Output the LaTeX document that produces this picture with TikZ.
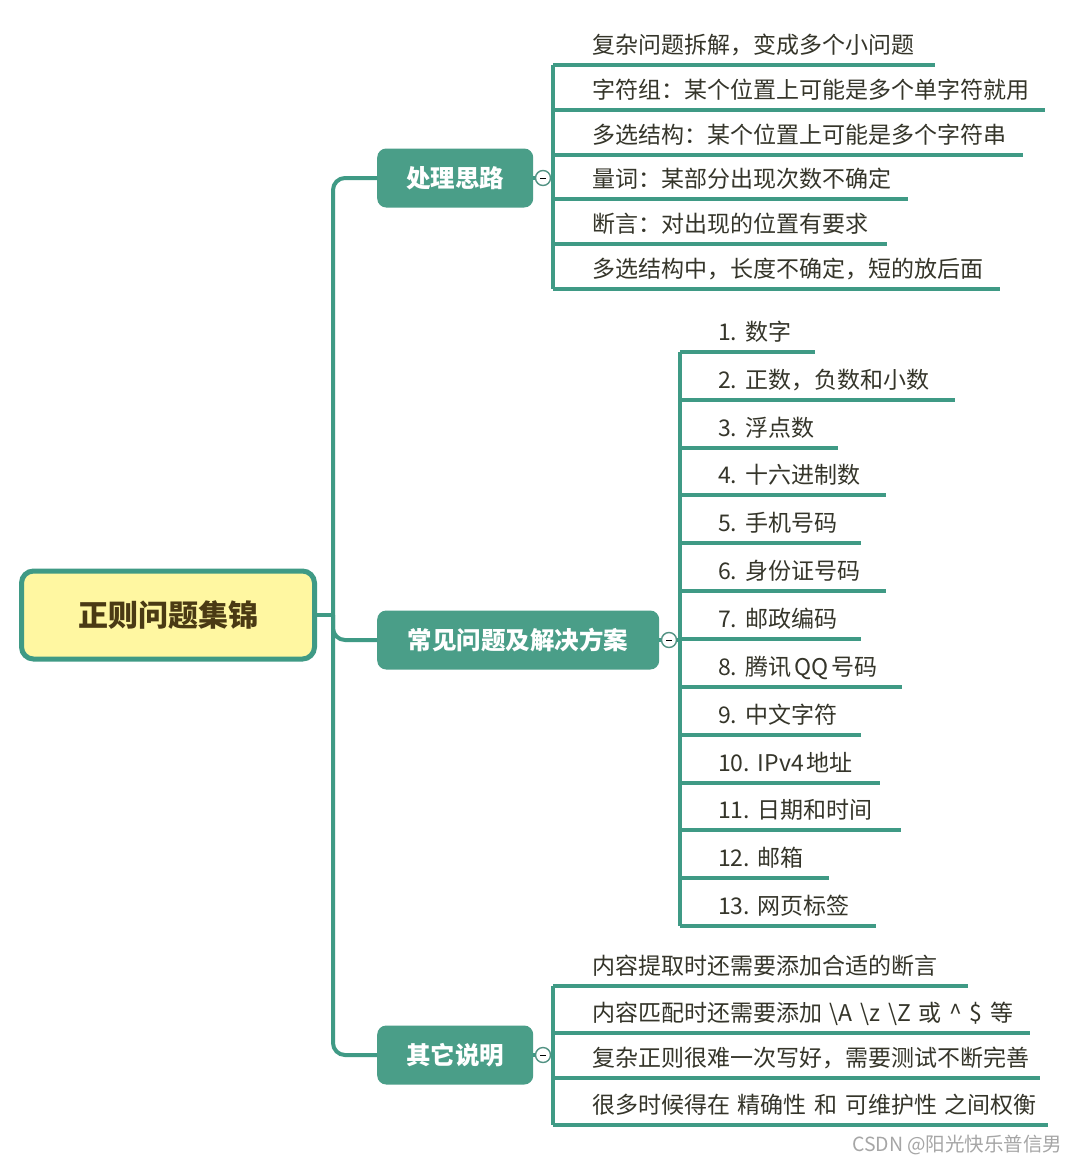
\documentclass[tikz,border=0pt]{standalone}
\usepackage{fontspec}
\setmainfont{Noto Sans CJK SC}
\usepackage{tikz}
\usepackage{xcolor}

\definecolor{linegreen}{HTML}{3F9A85}
\definecolor{topicgreen}{HTML}{4A9E88}
\definecolor{rootyellow}{HTML}{FFF7A1}
\definecolor{roottext}{HTML}{4A3A14}
\definecolor{leaftext}{HTML}{35352A}

\tikzset{
  root/.style={draw=linegreen, line width=5pt, fill=rootyellow, rounded corners=12pt,
    minimum width=293pt, minimum height=88pt, text=roottext,
    font=\fontsize{30}{36}\selectfont\bfseries},
  topic/.style={anchor=west, fill=topicgreen, rounded corners=9pt, minimum height=59pt,
    inner xsep=0pt, text=white, font=\fontsize{24.5}{30}\selectfont\bfseries},
  marker/.style={circle, draw=linegreen!70!gray, fill=white, line width=1.4pt,
    minimum size=15pt, inner sep=0pt},
  leaf/.style={anchor=south west, inner xsep=0pt, inner ysep=11pt, text depth=0pt,
    align=left, text=leaftext, font=\fontsize{23}{28}\selectfont,
    execute at begin node={\hspace*{39pt}}},
  branch/.style={draw=linegreen, line width=4pt},
  uline/.style={draw=linegreen, line width=3.5pt}
}

\begin{document}
\begin{tikzpicture}[x=1pt, y=-1pt]
  \useasboundingbox[fill=white] (0,0) rectangle (1080,1164);

  \node[root] (R) at (168,615) {正则问题集锦};
  \node[topic, minimum width=156pt] (T1) at (377,178) {处理思路};
  \node[topic, minimum width=282pt] (T2) at (377,640) {常见问题及解决方案};
  \node[topic, minimum width=156pt] (T3) at (377,1055) {其它说明};

  \coordinate (H) at (333,615);
  \draw[branch] (R.east) -- (H);
  \draw[branch, rounded corners=12pt] (H) |- (T1.west);
  \draw[branch, rounded corners=12pt] (H) |- (T2.west);
  \draw[branch, rounded corners=12pt] (H) |- (T3.west);

  % first group
  \node[leaf, text width=382pt] (A1) at (553,65) {复杂问题拆解，变成多个小问题};
  \node[leaf, text width=492pt] (A2) at (553,110) {字符组：某个位置上可能是多个单字符就用};
  \node[leaf, text width=470pt] (A3) at (553,155) {多选结构：某个位置上可能是多个字符串};
  \node[leaf, text width=355pt] (A4) at (553,199) {量词：某部分出现次数不确定};
  \node[leaf, text width=334pt] (A5) at (553,244) {断言：对出现的位置有要求};
  \node[leaf, text width=447pt] (A6) at (553,289) {多选结构中，长度不确定，短的放后面};

  % second group
  \node[leaf, text width=135pt, execute at begin node={\hspace*{-1pt}}] (N1) at (680,352) {1.~数字};
  \node[leaf, text width=275pt, execute at begin node={\hspace*{-1pt}}] (N2) at (680,400) {2.~正数，负数和小数};
  \node[leaf, text width=158pt, execute at begin node={\hspace*{-1pt}}] (N3) at (680,448) {3.~浮点数};
  \node[leaf, text width=206pt, execute at begin node={\hspace*{-1pt}}] (N4) at (680,495) {4.~十六进制数};
  \node[leaf, text width=181pt, execute at begin node={\hspace*{-1pt}}] (N5) at (680,543) {5.~手机号码};
  \node[leaf, text width=206pt, execute at begin node={\hspace*{-1pt}}] (N6) at (680,591) {6.~身份证号码};
  \node[leaf, text width=181pt, execute at begin node={\hspace*{-1pt}}] (N7) at (680,639) {7.~邮政编码};
  \node[leaf, text width=222pt, execute at begin node={\hspace*{-1pt}}] (N8) at (680,687) {8.~腾讯\hspace{3pt}QQ\hspace{3pt}号码};
  \node[leaf, text width=181pt, execute at begin node={\hspace*{-1pt}}] (N9) at (680,735) {9.~中文字符};
  \node[leaf, text width=200pt, execute at begin node={\hspace*{-1pt}}] (N10) at (680,783) {10.~IPv4\hspace{3pt}地址};
  \node[leaf, text width=221pt, execute at begin node={\hspace*{-1pt}}] (N11) at (680,830) {11.~日期和时间};
  \node[leaf, text width=149pt, execute at begin node={\hspace*{-1pt}}] (N12) at (680,878) {12.~邮箱};
  \node[leaf, text width=196pt, execute at begin node={\hspace*{-1pt}}] (N13) at (680,926) {13.~网页标签};

  % third group
  \node[leaf, text width=415pt] (O1) at (553,986) {内容提取时还需要添加合适的断言};
  \node[leaf, text width=477pt] (O2) at (553,1033) {内容匹配时还需要添加~\textbackslash A~\textbackslash z~\textbackslash Z~或~\textasciicircum~\$~等};
  \node[leaf, text width=487pt] (O3) at (553,1078) {复杂正则很难一次写好，需要测试不断完善};
  \node[leaf, text width=495pt] (O4) at (553,1125) {很多时候得在~精确性~和~可维护性~之间权衡};

  \node[marker] (M1) at (543,178) {\rule{5.5pt}{1pt}};
  \node[marker] (M2) at (669,640) {\rule{5.5pt}{1pt}};
  \node[marker] (M3) at (543,1055) {\rule{5.5pt}{1pt}};

  \draw[uline] (A1.south west) -- (A6.south west);
  \draw[uline] (N1.south west) -- (N13.south west);
  \draw[uline] (O1.south west) -- (O4.south west);
  \draw[uline] (T1.east) -- (M1.west) (M1.east) -- (A1.south west |- M1);
  \draw[uline] (T2.east) -- (M2.west) (M2.east) -- (N1.south west |- M2);
  \draw[uline] (T3.east) -- (M3.west) (M3.east) -- (O1.south west |- M3);

  \foreach \n in {A1,A2,A3,A4,A5,A6,N1,N2,N3,N4,N5,N6,N7,N8,N9,N10,N11,N12,N13,O1,O2,O3,O4}
    \draw[uline] (\n.south west) -- (\n.south east);

  \node[anchor=east, text=gray!70, font=\fontsize{19.5}{23}\selectfont] (W) at (1066,1145) {CSDN @阳光快乐普信男};
\end{tikzpicture}
\end{document}
